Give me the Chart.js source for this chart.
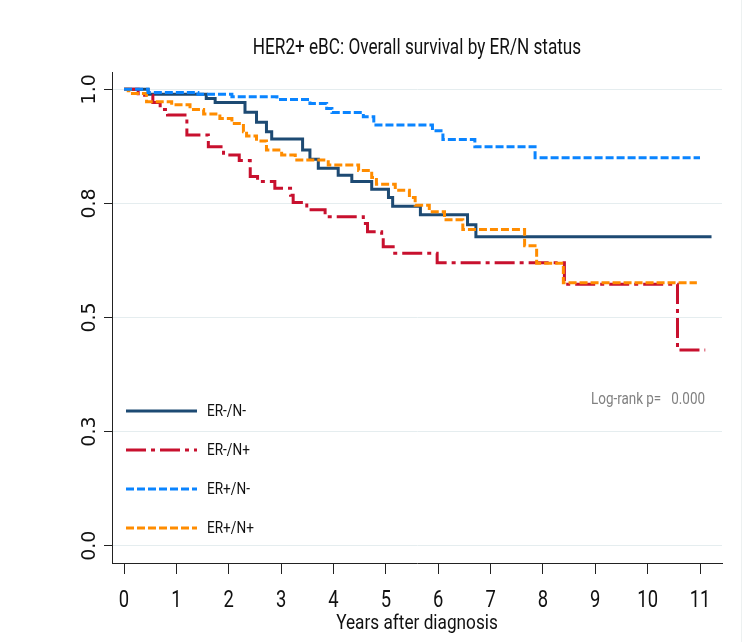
<!DOCTYPE html>
<html>
<head>
<meta charset="utf-8">
<script src="https://cdn.jsdelivr.net/npm/chart.js@4.4.1/dist/chart.umd.min.js"></script>
<style>
  html, body { margin: 0; padding: 0; background: #fff; }
  canvas { display: block; }
</style>
</head>
<body>
<canvas id="km" width="743" height="642"></canvas>
<script>
// Kaplan-Meier steps (years, survival)
const groupLabels = ['ER-/N-', 'ER-/N+', 'ER+/N-', 'ER+/N+'];

const nnTimes = [0, 0.46, 1.57, 1.74, 2.31, 2.53, 2.72, 2.82, 3.41, 3.55, 3.71, 4.09, 4.35, 4.73, 5.05, 5.13, 5.66, 6.56, 6.72, 11.22];
const nnSurv  = [1, 0.989, 0.980, 0.971, 0.950, 0.928, 0.907, 0.891, 0.867, 0.847, 0.827, 0.812, 0.798, 0.781, 0.763, 0.744, 0.725, 0.703, 0.677, 0.677];

const npTimes = [0, 0.27, 0.55, 0.69, 0.83, 1.20, 1.61, 1.90, 2.20, 2.41, 2.55, 2.88, 3.18, 3.23, 3.49, 3.84, 4.57, 4.65, 4.92, 4.95, 5.14, 5.98, 8.41, 10.57, 11.10];
const npSurv  = [1, 0.987, 0.971, 0.956, 0.944, 0.900, 0.874, 0.856, 0.844, 0.809, 0.798, 0.783, 0.768, 0.752, 0.736, 0.721, 0.706, 0.688, 0.674, 0.655, 0.641, 0.620, 0.573, 0.429, 0.429];

const pnTimes = [0, 0.46, 1.41, 2.06, 2.92, 3.55, 3.87, 3.97, 4.57, 4.77, 5.89, 6.09, 6.70, 7.85, 11.0];
const pnSurv  = [1, 0.993, 0.989, 0.984, 0.978, 0.969, 0.958, 0.949, 0.940, 0.922, 0.909, 0.890, 0.874, 0.850, 0.850];

const ppTimes = [0, 0.08, 0.12, 0.43, 0.91, 1.26, 1.52, 1.83, 2.06, 2.28, 2.34, 2.53, 2.72, 3.01, 3.27, 3.90, 4.48, 4.73, 4.82, 5.18, 5.45, 5.56, 5.83, 6.12, 6.47, 7.65, 7.88, 8.39, 10.94];
const ppSurv  = [1, 0.997, 0.991, 0.973, 0.966, 0.956, 0.946, 0.936, 0.925, 0.907, 0.898, 0.887, 0.867, 0.856, 0.845, 0.834, 0.822, 0.807, 0.792, 0.779, 0.763, 0.746, 0.732, 0.714, 0.693, 0.657, 0.619, 0.576, 0.576];

const xTickValues = [0, 1, 2, 3, 4, 5, 6, 7, 8, 9, 10, 11];
const yTickValues = [0, 0.25, 0.5, 0.75, 1];
const yTickLabels = ['0.0', '0.3', '0.5', '0.8', '1.0'];

const chartTitle = 'HER2+ eBC: Overall survival by ER/N status';
const xTitle = 'Years after diagnosis';
const logRankText = 'Log-rank p=   0.000';

const sans = 'Roboto, "Liberation Sans", sans-serif';

function toPoints(times, surv) {
  return times.map((t, i) => ({ x: t, y: surv[i] }));
}

const styles = [
  { color: '#1d4a73', dash: [] },
  { color: '#c8102e', dash: [20, 5, 4, 5] },
  { color: '#0a84ff', dash: [8, 3] },
  { color: '#ff8c00', dash: [8, 3] }
];

const series = [
  toPoints(nnTimes, nnSurv),
  toPoints(npTimes, npSurv),
  toPoints(pnTimes, pnSurv),
  toPoints(ppTimes, ppSurv)
];

// blue first so the others sit on top like the original
const drawOrder = [2, 3, 1, 0];

const datasets = drawOrder.map(i => ({
  label: groupLabels[i],
  data: series[i],
  borderColor: styles[i].color,
  borderDash: styles[i].dash,
  borderWidth: 3,
  stepped: true,
  pointRadius: 0,
  fill: false
}));

// the original uses a narrow (Calibri-like) face, so squeeze text horizontally
function narrowText(ctx, text, x, y, squeeze, align) {
  const w = ctx.measureText(text).width * squeeze;
  let left = x;
  if (align === 'center') left = x - w / 2;
  if (align === 'right') left = x - w;
  ctx.save();
  ctx.translate(left, y);
  ctx.scale(squeeze, 1);
  ctx.textAlign = 'left';
  ctx.fillText(text, 0, 0);
  ctx.restore();
}

const extras = {
  id: 'extras',
  afterDraw(chart) {
    const ctx = chart.ctx;
    const area = chart.chartArea;
    const xScale = chart.scales.x;
    const yScale = chart.scales.y;

    ctx.save();
    ctx.textBaseline = 'middle';

    // rotated y tick labels
    ctx.fillStyle = '#111';
    ctx.font = '19px "DejaVu Sans", sans-serif';
    ctx.textAlign = 'center';
    yTickValues.forEach((v, i) => {
      const py = yScale.getPixelForValue(v);
      ctx.save();
      ctx.translate(90, py);
      ctx.rotate(-Math.PI / 2);
      ctx.fillText(yTickLabels[i], 0, 0);
      ctx.restore();
    });

    // x tick labels
    ctx.font = '23px ' + sans;
    xTickValues.forEach(v => {
      narrowText(ctx, String(v), xScale.getPixelForValue(v), 601, 0.8, 'center');
    });

    // x axis title
    ctx.font = '21px ' + sans;
    narrowText(ctx, xTitle, (area.left + area.right) / 2, 624, 0.82, 'center');

    // title over the plot region
    ctx.font = '22px ' + sans;
    narrowText(ctx, chartTitle, (area.left + area.right) / 2, 48, 0.78, 'center');

    // log-rank note
    ctx.font = '16px ' + sans;
    ctx.fillStyle = '#808080';
    narrowText(ctx, logRankText, 705, 400, 0.84, 'right');

    // legend inside the plot
    const rows = [411, 450, 489, 528];
    ctx.font = '17px ' + sans;
    groupLabels.forEach((lab, i) => {
      const y = rows[i];
      ctx.beginPath();
      ctx.strokeStyle = styles[i].color;
      ctx.lineWidth = 3;
      ctx.setLineDash(styles[i].dash);
      ctx.moveTo(126, y);
      ctx.lineTo(197, y);
      ctx.stroke();
      ctx.setLineDash([]);
      ctx.fillStyle = '#111';
      narrowText(ctx, lab, 207, y + 1, 0.8, 'left');
    });

    // faint frame line on the right edge
    ctx.strokeStyle = '#edf1f1';
    ctx.lineWidth = 1;
    ctx.beginPath();
    ctx.moveTo(741.5, 0);
    ctx.lineTo(741.5, 642);
    ctx.stroke();

    ctx.restore();
  }
};

new Chart(document.getElementById('km'), {
  type: 'line',
  data: { datasets: datasets },
  options: {
    responsive: false,
    animation: false,
    devicePixelRatio: 1,
    layout: { padding: { top: 72, right: 21, left: 0, bottom: 0 } },
    plugins: {
      legend: { display: false },
      title: { display: false },
      tooltip: { enabled: false }
    },
    scales: {
      x: {
        type: 'linear',
        min: -0.23,
        max: 11.42,
        afterBuildTicks: (s) => { s.ticks = xTickValues.map(v => ({ value: v })); },
        afterFit: (s) => { s.height = 79; },
        grid: { drawOnChartArea: false, drawTicks: true, tickLength: 11, tickColor: '#222' },
        border: { display: true, color: '#222', width: 1 },
        ticks: { display: false }
      },
      y: {
        type: 'linear',
        min: -0.038,
        max: 1.038,
        afterBuildTicks: (s) => { s.ticks = yTickValues.map(v => ({ value: v })); },
        afterFit: (s) => { s.width = 112; },
        grid: { color: '#e5edef', lineWidth: 1, drawTicks: true, tickLength: 8, tickColor: '#222' },
        border: { display: true, color: '#222', width: 1 },
        ticks: { display: false }
      }
    }
  },
  plugins: [extras]
});
</script>
</body>
</html>
